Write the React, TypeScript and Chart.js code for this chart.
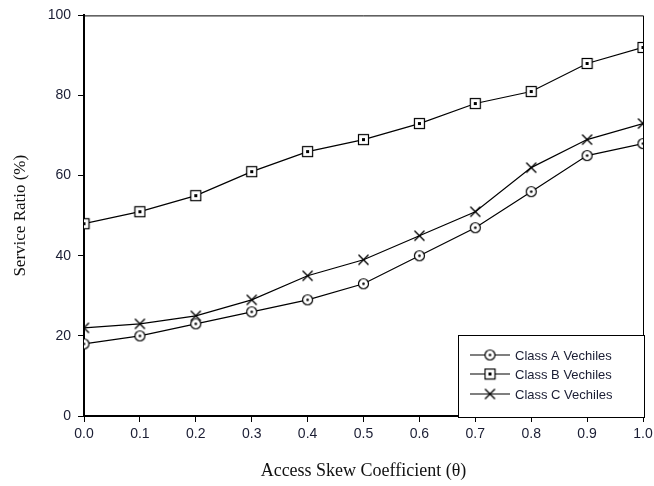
import React, { useEffect, useRef } from "react";
import { Chart, registerables } from "chart.js";

Chart.register(...registerables);

const thetaLabels = ["0.0", "0.1", "0.2", "0.3", "0.4", "0.5", "0.6", "0.7", "0.8", "0.9", "1.0"];
const thetaValues = [0, 0.1, 0.2, 0.3, 0.4, 0.5, 0.6, 0.7, 0.8, 0.9, 1.0];
const classA = [18, 20, 23, 26, 29, 33, 40, 47, 56, 65, 68];
const classB = [48, 51, 55, 61, 66, 69, 73, 78, 81, 88, 92];
const classC = [22, 23, 25, 29, 35, 39, 45, 51, 62, 69, 73];
const seriesNames = ["Class A Vechiles", "Class B Vechiles", "Class C Vechiles"];

function makeMarker(kind: "circle" | "square" | "cross"): HTMLCanvasElement {
  const c = document.createElement("canvas");
  c.width = 13;
  c.height = 13;
  const g = c.getContext("2d")!;
  g.strokeStyle = "#000";
  g.fillStyle = "#fff";
  g.lineWidth = 1.2;
  if (kind === "circle") {
    g.beginPath();
    g.arc(6.5, 6.5, 5, 0, Math.PI * 2);
    g.fill();
    g.stroke();
    g.fillStyle = "#000";
    g.beginPath();
    g.arc(6.5, 6.5, 1.3, 0, Math.PI * 2);
    g.fill();
  } else if (kind === "square") {
    g.fillRect(1.5, 1.5, 10, 10);
    g.strokeRect(1.5, 1.5, 10, 10);
    g.fillStyle = "#000";
    g.fillRect(5, 5, 3, 3);
  } else {
    g.lineWidth = 1.4;
    g.beginPath();
    g.moveTo(1.5, 1.5);
    g.lineTo(11.5, 11.5);
    g.moveTo(11.5, 1.5);
    g.lineTo(1.5, 11.5);
    g.stroke();
  }
  return c;
}

export default function App() {
  const ref = useRef<HTMLCanvasElement>(null);
  useEffect(() => {
    document.body.style.margin = "0";
    const markers = [makeMarker("circle"), makeMarker("square"), makeMarker("cross")];
    const series = [classA, classB, classC];

    const framePlugin = {
      id: "frame",
      afterDraw(chart: any) {
        const { ctx, chartArea } = chart;
        ctx.save();
        ctx.strokeStyle = "#000";
        ctx.lineWidth = 1;
        ctx.beginPath();
        ctx.moveTo(chartArea.left, chartArea.top + 0.5);
        ctx.lineTo(chartArea.right + 0.5, chartArea.top + 0.5);
        ctx.lineTo(chartArea.right + 0.5, chartArea.bottom);
        ctx.stroke();

        // legend box
        const bx = 458, by = 335, bw = 186, bh = 82;
        ctx.fillStyle = "#fff";
        ctx.fillRect(bx, by, bw, bh);
        ctx.strokeRect(bx + 0.5, by + 0.5, bw, bh);
        const rows = [355, 374, 394];
        ctx.font = "13px 'Liberation Sans', Arial, sans-serif";
        ctx.textBaseline = "middle";
        rows.forEach((y, i) => {
          ctx.strokeStyle = "#000";
          ctx.lineWidth = 1.2;
          ctx.beginPath();
          ctx.moveTo(470, y);
          ctx.lineTo(510, y);
          ctx.stroke();
          ctx.drawImage(markers[i], 490 - 6.5, y - 6.5);
          ctx.fillStyle = "#1a1d33";
          ctx.fillText(seriesNames[i], 515, y + 1);
        });
        ctx.restore();
      },
    };

    const chart = new Chart(ref.current!, {
      type: "line",
      data: {
        datasets: series.map((s, i) => ({
          label: seriesNames[i],
          data: s.map((v, j) => ({ x: thetaValues[j], y: v })),
          borderColor: "#000",
          borderWidth: 1.2,
          pointStyle: markers[i] as any,
          pointRadius: 6,
          tension: 0,
        })),
      },
      options: {
        animation: false,
        responsive: false,
        layout: { padding: { top: 13, right: 11, left: 0, bottom: 0 } },
        plugins: { legend: { display: false }, tooltip: { enabled: false } },
        scales: {
          x: {
            type: "linear",
            min: 0,
            max: 1,
            afterFit: (s: any) => {
              s.height = 70;
              s.paddingLeft = 0;
              s.paddingRight = 0;
            },
            afterBuildTicks: (s: any) => {
              s.ticks = thetaValues.map((v) => ({ value: v }));
            },
            ticks: {
              callback: (_v: any, i: number) => thetaLabels[i],
              color: "#1a1d33",
              font: { family: "'Liberation Sans', Arial, sans-serif", size: 14 },
              padding: 4,
              maxRotation: 0,
              autoSkip: false,
            },
            grid: { drawOnChartArea: false, tickLength: 6, color: "#000", tickColor: "#000" },
            border: { color: "#000", width: 2 },
            title: {
              display: true,
              text: "Access Skew Coefficient (θ)",
              color: "#111",
              font: { family: "'Liberation Serif', 'Times New Roman', serif", size: 18 },
              padding: { top: 12 },
            },
          },
          y: {
            min: 0,
            max: 100,
            afterFit: (s: any) => { s.width = 84; },
            ticks: {
              stepSize: 20,
              color: "#1a1d33",
              font: { family: "'Liberation Sans', Arial, sans-serif", size: 14 },
              padding: 7,
            },
            grid: { drawOnChartArea: false, tickLength: 6, color: "#000", tickColor: "#000" },
            border: { color: "#000", width: 2 },
            title: {
              display: true,
              text: "Service Ratio (%)",
              color: "#111",
              font: { family: "'Liberation Serif', 'Times New Roman', serif", size: 17 },
              padding: { top: 10, bottom: 4 },
            },
          },
        },
      },
      plugins: [framePlugin],
    });
    return () => chart.destroy();
  }, []);
  return (
    <div style={{ width: 654, height: 486 }}>
      <canvas ref={ref} width={654} height={486} style={{ width: 654, height: 486 }} />
    </div>
  );
}
